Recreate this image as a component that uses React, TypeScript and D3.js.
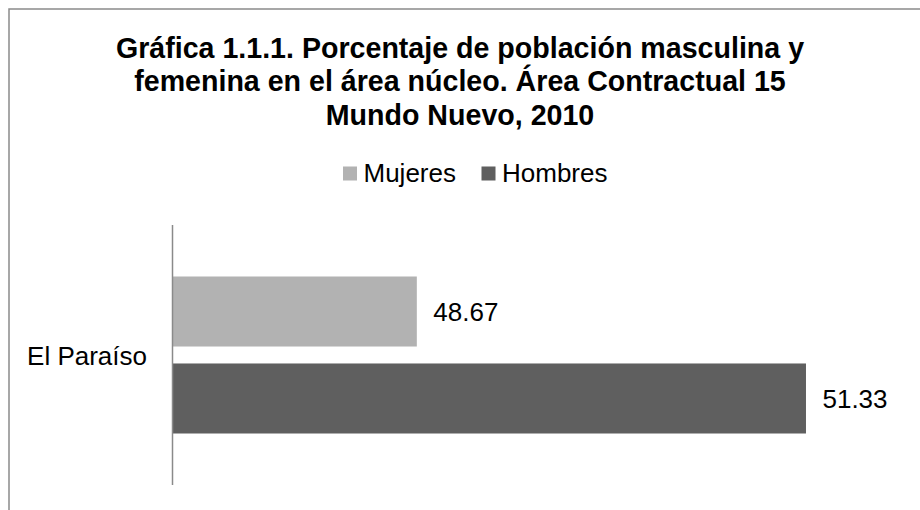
import * as d3 from 'd3';

const categories = ['El Paraíso'];
const seriesNames = ['Mujeres', 'Hombres'];
const mujeres = [48.67];
const hombres = [51.33];
const seriesColors = ['#b2b2b2', '#5f5f5f'];
const titleLines = [
  'Gráfica 1.1.1. Porcentaje de población masculina y',
  'femenina en el área núcleo. Área Contractual 15',
  'Mundo Nuevo, 2010'
];
const xDomain = [47, 52];

const App = () => {
  const width = 920;
  const height = 510;
  const plot = { left: 172.5, right: 904, top: 225, bottom: 485 };

  const x = d3.scaleLinear().domain(xDomain).range([plot.left, plot.right]);
  const y0 = d3.scaleBand().domain(categories).range([plot.top, plot.bottom]).padding(0);
  const y1 = d3
    .scaleBand()
    .domain(seriesNames)
    .range([0, y0.bandwidth()])
    .paddingInner(0.195)
    .paddingOuter(0.592);

  const values = [mujeres, hombres];
  const font = "'Liberation Sans', Arial, sans-serif";

  // legend items laid out left to right
  const legendX = [343, 481.5];

  return (
    <svg
      width={width}
      height={height}
      style={{ position: 'absolute', left: 0, top: 0, background: '#fff' }}
      fontFamily={font}
    >
      <rect x={9} y={9} width={1000} height={1000} fill="#fff" stroke="#8a8a8a" strokeWidth={1.5} />

      <g fontWeight="bold" fontSize={28.6} textAnchor="middle" fill="#000">
        {titleLines.map((t, i) => (
          <text key={i} x={460} y={57.5 + i * 33.5}>
            {t}
          </text>
        ))}
      </g>

      <g fontSize={26} fill="#000">
        {seriesNames.map((s, i) => (
          <g key={s} transform={`translate(${legendX[i]},0)`}>
            <rect x={0} y={166.5} width={14} height={14} fill={seriesColors[i]} />
            <text x={20.5} y={182}>
              {s}
            </text>
          </g>
        ))}
      </g>

      {categories.map((c, ci) => (
        <g key={c} transform={`translate(0,${y0(c)})`}>
          {seriesNames.map((s, si) => {
            const v = values[si][ci];
            const yy = y1(s)!;
            return (
              <g key={s}>
                <rect
                  x={x(xDomain[0])}
                  y={yy}
                  width={x(v) - x(xDomain[0])}
                  height={y1.bandwidth()}
                  fill={seriesColors[si]}
                />
                <text x={x(v) + 16.5} y={yy + y1.bandwidth() / 2 + 9.5} fontSize={26} fill="#000">
                  {v.toFixed(2)}
                </text>
              </g>
            );
          })}
          <text
            x={plot.left - 25.5}
            y={y0.bandwidth() / 2 + 9.5}
            fontSize={26}
            textAnchor="end"
            fill="#000"
          >
            {c}
          </text>
        </g>
      ))}

      <line x1={plot.left} x2={plot.left} y1={plot.top} y2={plot.bottom} stroke="#8a8a8a" strokeWidth={1.5} />
    </svg>
  );
};

export default App;
